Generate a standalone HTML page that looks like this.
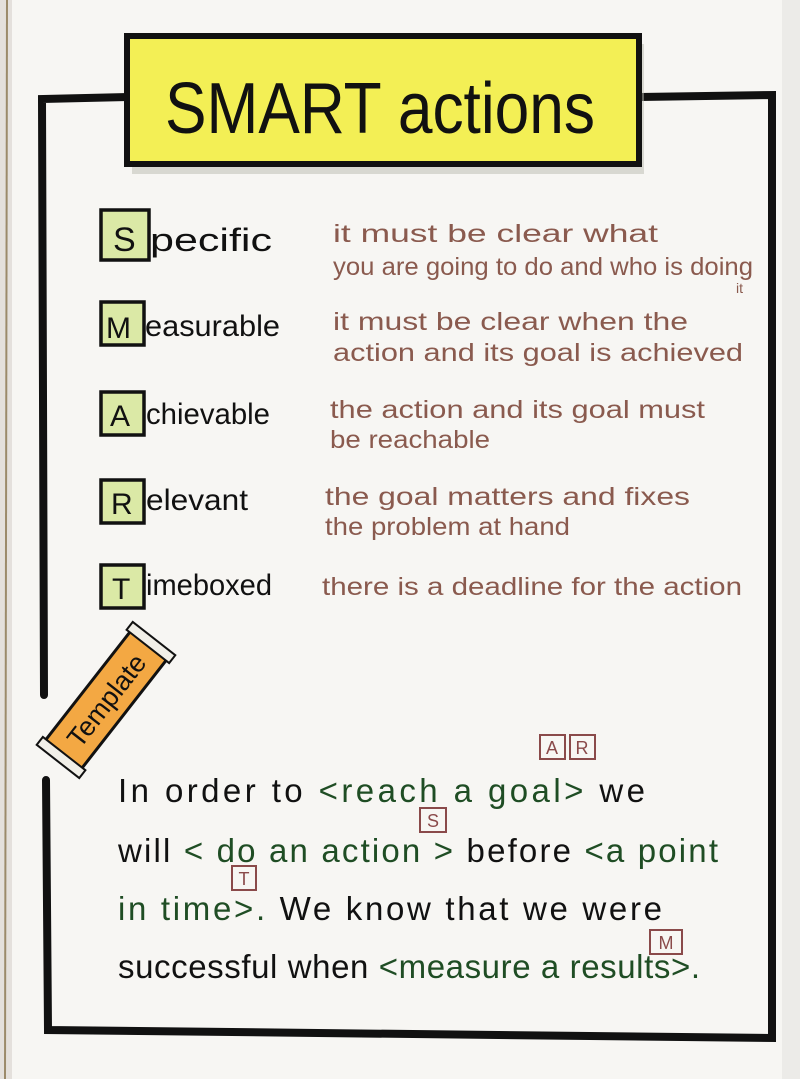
<!DOCTYPE html>
<html><head><meta charset="utf-8"><style>
html,body{margin:0;padding:0;background:#f6f5f2;}
svg{display:block}
text{font-family:"Liberation Sans","DejaVu Sans",sans-serif;}
</style></head><body>
<svg width="800" height="1079" viewBox="0 0 800 1079" xmlns="http://www.w3.org/2000/svg">
<rect x="0" y="0" width="800" height="1079" fill="#f7f6f3"/>
<rect x="0" y="0" width="12" height="1079" fill="#e4e0dc"/>
<line x1="7" y1="0" x2="5" y2="1079" stroke="#9b8a6a" stroke-width="2"/>
<rect x="782" y="0" width="18" height="1079" fill="#ecebe8"/>
<!-- frame -->
<g stroke="#111" stroke-width="8" fill="none" stroke-linecap="round">
<polyline points="130,97 42,99 44,695"/>
<polyline points="640,97 772,95 772,1038 48,1030 46,780"/>
</g>
<!-- title box -->
<rect x="132" y="44" width="512" height="130" fill="#b9b9b0" opacity="0.5"/>
<rect x="127" y="36" width="512" height="128" fill="#f3ef55" stroke="#111" stroke-width="6"/>
<text x="165" y="133" font-size="72" fill="#111" textLength="430" lengthAdjust="spacingAndGlyphs">SMART actions</text>
<!-- letter boxes -->
<g stroke="#111" stroke-width="3.5" fill="#dbe9a6">
<rect x="101" y="210" width="48" height="50"/>
<rect x="101" y="302" width="43" height="43"/>
<rect x="101" y="392" width="43" height="43"/>
<rect x="101" y="480" width="43" height="43"/>
<rect x="101" y="565" width="43" height="43"/>
</g>
<g fill="#111" font-size="34">
<text x="113" y="251">S</text><text x="150" y="251" font-size="32" textLength="122" lengthAdjust="spacingAndGlyphs">pecific</text>
<text x="106" y="338" font-size="30">M</text><text x="145" y="336" font-size="30" textLength="135" lengthAdjust="spacingAndGlyphs">easurable</text>
<text x="110" y="426" font-size="30">A</text><text x="146" y="424" font-size="30" textLength="124" lengthAdjust="spacingAndGlyphs">chievable</text>
<text x="111" y="514" font-size="30">R</text><text x="146" y="510" font-size="30" textLength="102" lengthAdjust="spacingAndGlyphs">elevant</text>
<text x="112" y="599" font-size="30">T</text><text x="146" y="595" font-size="30" textLength="126" lengthAdjust="spacingAndGlyphs">imeboxed</text>
</g>
<g fill="#8a5a4e" font-size="25">
<text x="333" y="242" textLength="325" lengthAdjust="spacingAndGlyphs">it must be clear what</text>
<text x="333" y="275" textLength="420" lengthAdjust="spacingAndGlyphs">you are going to do and who is doing</text>
<text x="736" y="293" font-size="14">it</text>
<text x="333" y="330" textLength="355" lengthAdjust="spacingAndGlyphs">it must be clear when the</text>
<text x="333" y="361" textLength="410" lengthAdjust="spacingAndGlyphs">action and its goal is achieved</text>
<text x="330" y="418" textLength="375" lengthAdjust="spacingAndGlyphs">the action and its goal must</text>
<text x="330" y="448" textLength="160" lengthAdjust="spacingAndGlyphs">be reachable</text>
<text x="325" y="505" textLength="365" lengthAdjust="spacingAndGlyphs">the goal matters and fixes</text>
<text x="325" y="535" textLength="245" lengthAdjust="spacingAndGlyphs">the problem at hand</text>
<text x="322" y="595" textLength="420" lengthAdjust="spacingAndGlyphs">there is a deadline for the action</text>
</g>
<!-- template tag -->
<g transform="translate(106,700) rotate(-52)">
<rect x="-72" y="-23" width="144" height="46" fill="#f3a843" stroke="#111" stroke-width="3"/>
<text x="0" y="10" font-size="27" text-anchor="middle" fill="#111">Template</text>
<g stroke="#111" stroke-width="2" fill="#f1efe8">
<rect x="-78" y="-27" width="10" height="54"/>
<rect x="68" y="-27" width="10" height="54"/>
</g>
</g>
<!-- bottom text -->
<g font-size="33">
<text x="118" y="802" fill="#111" textLength="527" lengthAdjust="spacing">In order to <tspan fill="#1f4d24">&lt;reach a goal&gt;</tspan> we</text>
<text x="118" y="862" fill="#111" textLength="600" lengthAdjust="spacing">will <tspan fill="#1f4d24">&lt; do an action &gt;</tspan> before <tspan fill="#1f4d24">&lt;a point</tspan></text>
<text x="118" y="920" fill="#1f4d24" textLength="544" lengthAdjust="spacing">in time&gt;. <tspan fill="#111">We know that we were</tspan></text>
<text x="118" y="978" fill="#111" textLength="582" lengthAdjust="spacing">successful when <tspan fill="#1f4d24">&lt;measure a results&gt;.</tspan></text>
</g>
<g stroke="#8a4a4a" stroke-width="2" fill="none">
<rect x="540" y="735" width="25" height="24"/><rect x="570" y="735" width="25" height="24"/>
<rect x="420" y="808" width="26" height="24"/>
<rect x="232" y="866" width="24" height="24"/>
<rect x="650" y="930" width="32" height="24"/>
</g>
<g fill="#8a4a4a" font-size="18" text-anchor="middle">
<text x="552" y="754">A</text><text x="582" y="754">R</text>
<text x="433" y="827">S</text><text x="244" y="885">T</text><text x="666" y="949">M</text>
</g>
</svg>
</body></html>
